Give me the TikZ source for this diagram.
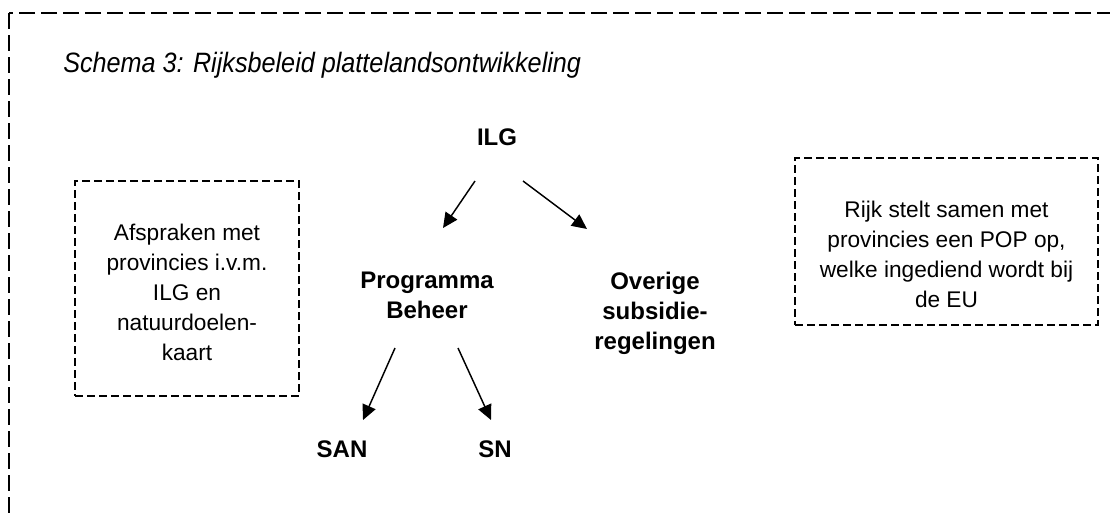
\documentclass[tikz,border=0pt]{standalone}
\usepackage{fontspec}
\setmainfont{Liberation Sans}
\newfontfamily\titlefont[FakeStretch=0.9]{Liberation Sans}
\usetikzlibrary{arrows.meta}
\begin{document}
\begin{tikzpicture}[x=0.75pt,y=-0.75pt,
  frame/.style={line width=1.2pt, dash pattern=on 12pt off 4.5pt},
  notebox/.style={draw, line width=1.1pt, dash pattern=on 6pt off 3pt, inner sep=0pt},
  plain/.style={font=\fontsize{17}{22.5}\selectfont, align=center, inner sep=0pt},
  boldtxt/.style={font=\fontsize{18}{22.5}\selectfont\bfseries, align=center, inner sep=0pt},
  arr/.style={line width=1.1pt, -{Triangle[length=11.25pt,width=10.5pt]}}]
\useasboundingbox (0,0) rectangle (1110,515);
\clip (0,0) rectangle (1110,515);
\fill[white] (0,0) rectangle (1110,515);
\draw[frame] (9,13) rectangle (1140,545);

\node[anchor=base west, inner sep=0pt, font=\titlefont\itshape\fontsize{21}{25}\selectfont] (title) at (63,72) {Schema 3: Rijksbeleid plattelandsontwikkeling};

\node[notebox, minimum width=168pt, minimum height=161.25pt] (lbox) at (187,288.5) {};
\node[plain, anchor=north] (ltext) at (187,224) {Afspraken met\\provincies i.v.m.\\ILG en\\natuurdoelen-\\kaart};

\node[notebox, minimum width=227.25pt, minimum height=125.25pt] (rbox) at (946.5,241.5) {};
\node[plain, anchor=north] (rtext) at (946.5,201) {Rijk stelt samen met\\provincies een POP op,\\welke ingediend wordt bij\\de EU};

\node[boldtxt, anchor=base] (ilg) at (497,145) {ILG};
\node[boldtxt, anchor=north] (pb) at (427,272) {Programma\\Beheer};
\node[boldtxt, anchor=north] (ov) at (655,272) {Overige\\subsidie-\\regelingen};
\node[boldtxt, anchor=base] (san) at (342,457) {SAN};
\node[boldtxt, anchor=base] (sn) at (495,457) {SN};

\coordinate (a1s) at (475,181); \coordinate (a1e) at (443,228);
\coordinate (a2s) at (523,181); \coordinate (a2e) at (587,229);
\coordinate (a3s) at (395,348); \coordinate (a3e) at (363,420);
\coordinate (a4s) at (458,348); \coordinate (a4e) at (491,420);
\draw[arr] (a1s) -- (a1e);
\draw[arr] (a2s) -- (a2e);
\draw[arr] (a3s) -- (a3e);
\draw[arr] (a4s) -- (a4e);
\end{tikzpicture}
\end{document}
